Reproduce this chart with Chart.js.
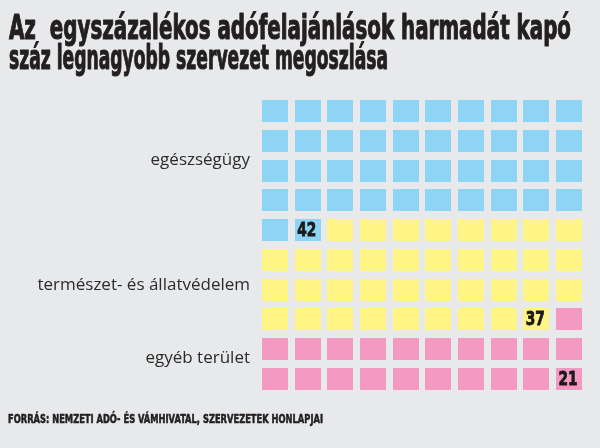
<!DOCTYPE html>
<html>
<head>
<meta charset="utf-8">
<script src="https://cdn.jsdelivr.net/npm/chart.js@4"></script>
<style>
	html, body { margin: 0; padding: 0; background: #e8e9eb; }
	#wrap { width: 600px; height: 448px; position: relative; }
</style>
</head>
<body>
<div id="wrap"><canvas id="chart" width="600" height="448"></canvas></div>
<script>
const title = ["Az  egyszázalékos adófelajánlások harmadát kapó", "száz legnagyobb szervezet megoszlása"]
const source = "FORRÁS: NEMZETI ADÓ- ÉS VÁMHIVATAL, SZERVEZETEK HONLAPJAI"
const categories = ["egészségügy", "természet- és állatvédelem", "egyéb terület"]
const counts = [42, 37, 21]
const colors = ["#8ed5f5", "#fff585", "#f49ac2"]

const COLS = 10
const CELL_W = 26
const CELL_H = 22.5
// vertical placement of the category labels, in grid rows
const labelRows = [1.65, 5.85, 8.3]

// one coloured tile per category, used as point style
const tile = (color) => {
	const c = document.createElement("canvas")
	c.width = CELL_W
	c.height = CELL_H
	const g = c.getContext("2d")
	g.fillStyle = color
	g.fillRect(0, 0, CELL_W, CELL_H)
	return c
}

// fill the grid row by row
var start = 0
const datasets = categories.map((name, i) => {
	const pts = []
	for (let k = 0; k < counts[i]; k++) {
		const n = start + k
		pts.push({ x: n % COLS, y: Math.floor(n / COLS) })
	}
	start += counts[i]
	return {
		label: name,
		data: pts,
		pointStyle: tile(colors[i]),
		pointRadius: CELL_W / 2,
		pointHoverRadius: CELL_W / 2,
		backgroundColor: colors[i],
	}
})

// squeeze text to a given width, optionally thickened with a stroke
const fitText = (ctx, text, x, y, w, stroke) => {
	const m = ctx.measureText(text).width
	ctx.save()
	ctx.translate(x, y)
	ctx.scale(w / m, 1)
	if (stroke) {
		ctx.lineWidth = stroke
		ctx.lineJoin = "round"
		ctx.strokeStyle = ctx.fillStyle
		ctx.strokeText(text, 0, 0)
	}
	ctx.fillText(text, 0, 0)
	ctx.restore()
}

const textPlugin = {
	id: "texts",
	afterDraw: (chart) => {
		const ctx = chart.ctx
		const xs = chart.scales.x
		const ys = chart.scales.y
		ctx.save()

		// title
		ctx.fillStyle = "#231f20"
		ctx.textBaseline = "alphabetic"
		ctx.textAlign = "left"
		ctx.font = "bold 33px 'DejaVu Sans Condensed'"
		fitText(ctx, title[0], 9, 39, 562, 1.1)
		fitText(ctx, title[1], 9, 69, 379, 1.1)

		// source
		ctx.font = "bold 13px 'DejaVu Sans Condensed'"
		fitText(ctx, source, 8, 423, 315, 0.6)

		// category labels
		ctx.fillStyle = "#2b2b2b"
		ctx.font = "17px 'Open Sans'"
		ctx.textAlign = "right"
		ctx.textBaseline = "middle"
		categories.forEach((name, i) => {
			ctx.fillText(name, 250, ys.getPixelForValue(labelRows[i]))
		})

		// value in the last tile of each category
		ctx.fillStyle = "#1a1a1a"
		ctx.font = "bold 19px 'DejaVu Sans Condensed'"
		ctx.textAlign = "center"
		chart.data.datasets.forEach((ds, i) => {
			const p = ds.data[ds.data.length - 1]
			const px = xs.getPixelForValue(p.x) - 1
			const py = ys.getPixelForValue(p.y) + 1
			const s = String(counts[i])
			ctx.save()
			ctx.translate(px, py)
			ctx.scale(0.8, 1)
			ctx.lineWidth = 0.8
			ctx.strokeStyle = ctx.fillStyle
			ctx.strokeText(s, 0, 0)
			ctx.fillText(s, 0, 0)
			ctx.restore()
		})
		ctx.restore()
	},
}

new Chart(document.getElementById("chart"), {
	type: "scatter",
	data: { datasets: datasets },
	options: {
		responsive: false,
		animation: false,
		events: [],
		layout: {
			padding: { left: 258.7, right: 14.7, top: 96.3, bottom: 54.4 },
		},
		scales: {
			x: { type: "linear", min: -0.5, max: 9.5, display: false },
			y: { type: "linear", min: -0.5, max: 9.5, reverse: true, display: false },
		},
		plugins: {
			legend: { display: false },
			tooltip: { enabled: false },
		},
	},
	plugins: [textPlugin],
})
</script>
</body>
</html>
